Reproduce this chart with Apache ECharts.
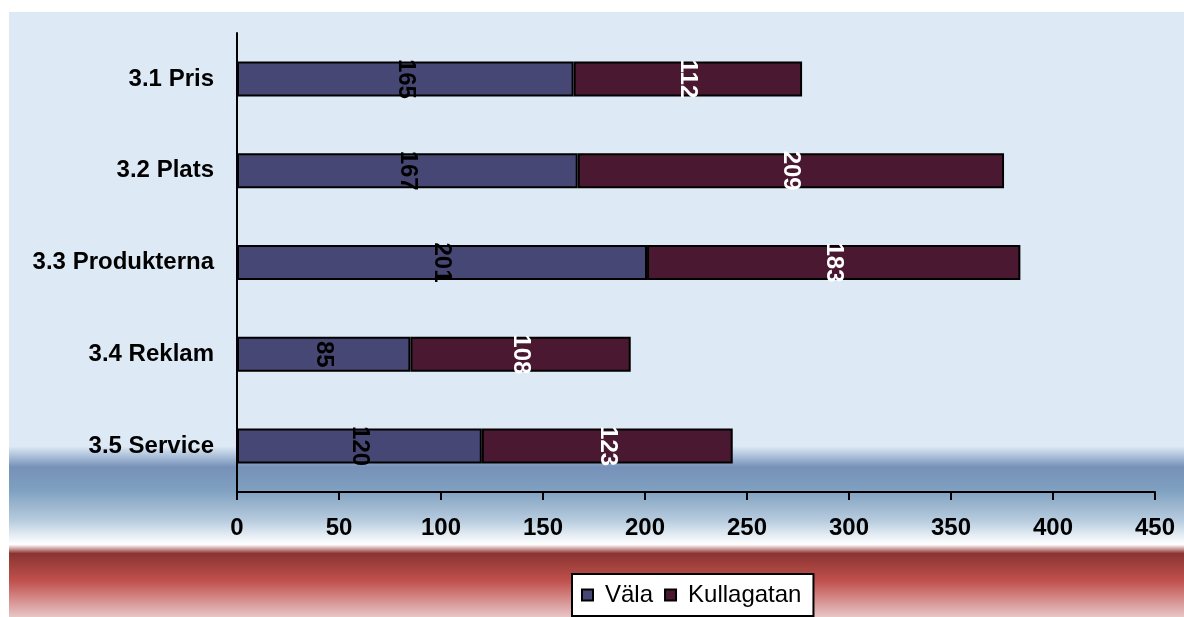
<!DOCTYPE html>
<html>
<head>
<meta charset="utf-8">
<script src="https://cdn.jsdelivr.net/npm/echarts@6/dist/echarts.min.js"></script>
<style>html,body{margin:0;padding:0;background:#fff}#c{width:1184px;height:617px}</style>
</head>
<body>
<div id="c"></div>
<script>
const categories = ['3.1 Pris', '3.2 Plats', '3.3 Produkterna', '3.4 Reklam', '3.5 Service'];
const valaValues = [165, 167, 201, 85, 120];
const kullagatanValues = [112, 209, 183, 108, 123];
const seriesNames = ['Väla', 'Kullagatan'];
const xTicks = [0, 50, 100, 150, 200, 250, 300, 350, 400, 450];

const FONT = "'Liberation Sans', Arial, sans-serif";
const chart = echarts.init(document.getElementById('c'), null, {renderer: 'canvas'});
chart.setOption({
  animation: false,
  backgroundColor: '#ffffff',
  graphic: [{
    type: 'rect', z: -10, silent: true,
    shape: {x: 9, y: 12, width: 1175, height: 605},
    style: {
      fill: new echarts.graphic.LinearGradient(0, 0, 0, 1, [
        {offset: 0, color: '#dde9f4'},
        {offset: 0.718, color: '#dde9f4'},
        {offset: 0.735, color: '#a9bed8'},
        {offset: 0.752, color: '#7791b8'},
        {offset: 0.79, color: '#7fa0c0'},
        {offset: 0.84, color: '#b6cbde'},
        {offset: 0.872, color: '#f2f6fa'},
        {offset: 0.880, color: '#ffffff'},
        {offset: 0.884, color: '#e6cccc'},
        {offset: 0.895, color: '#8a3431'},
        {offset: 0.94, color: '#c0504d'},
        {offset: 1, color: '#e8c6c6'}
      ])
    }
  }],
  grid: {left: 237, right: 29, top: 33, bottom: 125, containLabel: false},
  legend: {
    data: seriesNames,
    left: 572, top: 574,
    backgroundColor: '#ffffff',
    borderColor: '#000000', borderWidth: 2,
    padding: [9, 12, 9, 9],
    itemWidth: 11, itemHeight: 11, itemGap: 11,
    icon: 'rect',
    textStyle: {fontFamily: FONT, fontSize: 24, color: '#000', padding: [0, 0, 0, 7]}
  },
  xAxis: {
    type: 'value', min: 0, max: 450, interval: 50,
    axisLine: {show: true, lineStyle: {color: '#000', width: 2}},
    axisTick: {show: true, length: 8, lineStyle: {color: '#000', width: 2}},
    splitLine: {show: false},
    axisLabel: {
      margin: 24, fontFamily: FONT, fontSize: 24, fontWeight: 'bold', color: '#000',
      formatter: v => xTicks.includes(v) ? String(v) : ''
    }
  },
  yAxis: {
    type: 'category', data: categories, inverse: true,
    axisLine: {show: true, lineStyle: {color: '#000', width: 2}},
    axisTick: {show: false},
    axisLabel: {margin: 23, fontFamily: FONT, fontSize: 24, fontWeight: 'bold', color: '#000'}
  },
  series: [
    {
      name: seriesNames[0], type: 'bar', stack: 'total', data: valaValues, barWidth: 35,
      itemStyle: {color: '#474775', borderColor: '#000', borderWidth: 2},
      label: {show: true, position: 'inside', rotate: -90, fontFamily: FONT, fontSize: 24, fontWeight: 'bold', color: '#000'}
    },
    {
      name: seriesNames[1], type: 'bar', stack: 'total', data: kullagatanValues, barWidth: 35,
      itemStyle: {color: '#4a1830', borderColor: '#000', borderWidth: 2},
      label: {show: true, position: 'inside', rotate: -90, fontFamily: FONT, fontSize: 24, fontWeight: 'bold', color: '#fff'}
    }
  ]
});
</script>
</body>
</html>
